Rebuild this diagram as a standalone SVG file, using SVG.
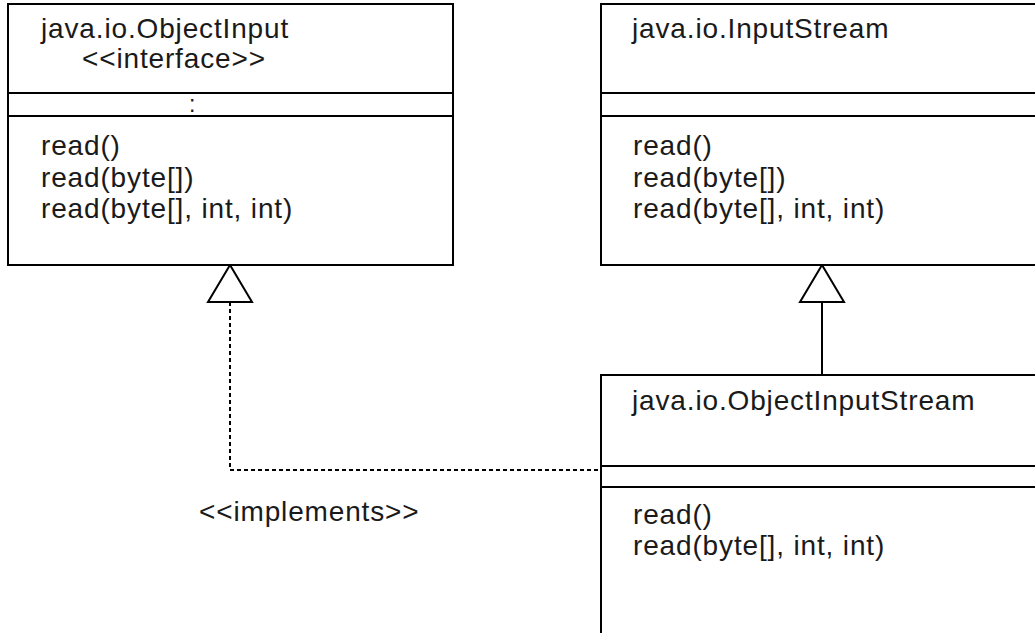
<svg xmlns="http://www.w3.org/2000/svg" width="1035" height="633" viewBox="0 0 1035 633">
<style>
.box{fill:#fff;stroke:#000;stroke-width:2}
.div{stroke:#000;stroke-width:2}
.t{font-family:"Liberation Sans",Arial,sans-serif;font-size:28px;letter-spacing:0.85px;fill:#1a1a1a}
.gen{fill:#fff;stroke:#000;stroke-width:2}
.conn{fill:none;stroke:#000;stroke-width:2}
</style>
<rect width="1035" height="633" fill="#fff"/>
<g id="connectors">
<polyline class="conn" points="230,302 230,470 601,470" stroke-dasharray="4 3"/>
<line class="conn" x1="822" y1="302" x2="822" y2="375"/>
<polygon class="gen" points="230,265 208,302 252,302"/>
<polygon class="gen" points="822,265 800,302 844,302"/>
<text class="t" x="199" y="521">&lt;&lt;implements&gt;&gt;</text>
</g>
<g id="ObjectInput">
<rect class="box" x="8" y="4" width="445" height="261"/>
<line class="div" x1="8" y1="93" x2="453" y2="93"/>
<line class="div" x1="8" y1="116" x2="453" y2="116"/>
<text class="t" x="41" y="38">java.io.ObjectInput</text>
<text class="t" x="82" y="68">&lt;&lt;interface&gt;&gt;</text>
<text class="t" x="189" y="112" style="font-size:23px;letter-spacing:0">:</text>
<text class="t" x="41" y="155">read()</text>
<text class="t" x="41" y="187">read(byte[])</text>
<text class="t" x="41" y="218">read(byte[], int, int)</text>
</g>
<g id="InputStream">
<rect class="box" x="601" y="4" width="450" height="261"/>
<line class="div" x1="601" y1="93" x2="1040" y2="93"/>
<line class="div" x1="601" y1="116" x2="1040" y2="116"/>
<text class="t" x="632" y="38">java.io.InputStream</text>
<text class="t" x="633" y="155">read()</text>
<text class="t" x="633" y="187">read(byte[])</text>
<text class="t" x="633" y="218">read(byte[], int, int)</text>
</g>
<g id="ObjectInputStream">
<rect class="box" x="601" y="375" width="450" height="270"/>
<line class="div" x1="601" y1="466" x2="1040" y2="466"/>
<line class="div" x1="601" y1="487" x2="1040" y2="487"/>
<text class="t" x="632" y="410">java.io.ObjectInputStream</text>
<text class="t" x="633" y="524">read()</text>
<text class="t" x="633" y="555">read(byte[], int, int)</text>
</g>
</svg>
